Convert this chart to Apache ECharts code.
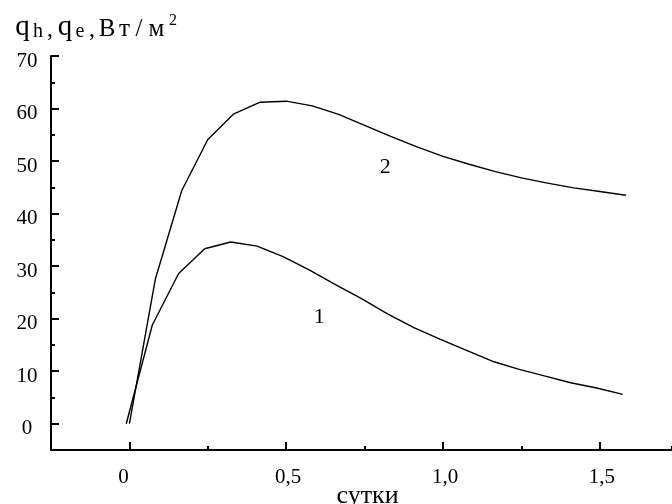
<!DOCTYPE html>
<html><head><meta charset="utf-8">
<script src="https://cdn.jsdelivr.net/npm/echarts@6/dist/echarts.min.js"></script>
<style>html,body{margin:0;padding:0;background:#fff}#c{width:672px;height:504px}</style>
</head><body><div id="c"></div>
<script>
// Curve 1 (lower)
const curve1X = [-0.01, 0.073, 0.157, 0.24, 0.323, 0.407, 0.49, 0.573, 0.657, 0.74, 0.823, 0.907, 0.99, 1.073, 1.157, 1.24, 1.323, 1.407, 1.49, 1.573];
const curve1Y = [0, 18.8, 28.6, 33.3, 34.6, 33.8, 31.8, 29.3, 26.5, 23.8, 20.9, 18.3, 16.1, 14.0, 11.9, 10.4, 9.1, 7.8, 6.8, 5.6];
// Curve 2 (upper)
const curve2X = [0, 0.083, 0.167, 0.25, 0.333, 0.417, 0.5, 0.583, 0.667, 0.75, 0.833, 0.917, 1.0, 1.083, 1.167, 1.25, 1.333, 1.417, 1.5, 1.583];
const curve2Y = [0, 27.6, 44.4, 54.1, 59.0, 61.2, 61.4, 60.5, 58.9, 56.8, 54.7, 52.7, 50.9, 49.4, 48.0, 46.8, 45.8, 44.9, 44.2, 43.5];
// Axis ticks / labels
const xMajorTicks = [0, 0.5, 1, 1.5];
const xTickLabels = ['0', '0,5', '1,0', '1,5'];
const yMajorTicks = [0, 10, 20, 30, 40, 50, 60, 70];
const yTickLabels = ['0', '10', '20', '30', '40', '50', '60', '70'];
const curveNames = ['1', '2'];
const curveNameX = [0.605, 0.816];
const curveNameY = [20.3, 48.8];
const xAxisName = 'сутки';

const FONT = 'Liberation Serif, Times New Roman, serif';
const chart = echarts.init(document.getElementById('c'), null, {renderer: 'canvas'});

const pair = (xs, ys) => xs.map((x, i) => [x, ys[i]]);
const axisBase = {
  type: 'value', splitLine: {show: false}
};
const tok = (size, width, va, align) => ({fontFamily: FONT, fontSize: size, lineHeight: size, width: width,
  align: align || 'center', color: '#000', fontWeight: 'normal', verticalAlign: va || 'bottom'});

chart.setOption({
  animation: false,
  backgroundColor: '#fff',
  title: {
    left: 13, top: 13, padding: 0,
    text: '{q|q}{s|h}{n|,}{q2|q}{s|e}{n|,}{B|В}{t|т}{sl|/}{m|м}{p|2}',
    textStyle: {
      fontWeight: 'normal', fontFamily: FONT, color: '#000',
      rich: {
        q: tok(29, 19),
        q2: tok(29, 18),
        s: tok(20, 12),
        n: tok(24, 12, 'bottom', 'left'),
        B: tok(25, 18),
        t: tok(25, 17),
        sl: tok(25, 12),
        m: tok(25, 23),
        p: tok(16, 10, 'top')
      }
    }
  },
  grid: {left: 51, right: 0, top: 56, bottom: 54, containLabel: false, outerBoundsMode: 'none'},
  xAxis: [
    Object.assign({}, axisBase, {
      min: -0.25, max: 1.73, interval: 0.25,
      axisLine: {show: true, onZero: false, lineStyle: {color: '#000', width: 2}},
      axisTick: {show: true, inside: true, length: 4, lineStyle: {color: '#000', width: 2}},
      axisLabel: {
        customValues: xMajorTicks, margin: 17, color: '#000', fontFamily: FONT, fontSize: 21,
        padding: [0, 0, 0, 4],
        rich: {z: {fontFamily: FONT, fontSize: 21, color: '#000', padding: [0, 16, 0, 0]}},
        formatter: v => {
          const i = xMajorTicks.findIndex(t => Math.abs(t - v) < 1e-6);
          if (i < 0) return '';
          return i === 0 ? '{z|' + xTickLabels[i] + '}' : xTickLabels[i];
        }
      },
      name: xAxisName, nameLocation: 'middle', nameGap: 33, nameMoveOverlap: false,
      nameTextStyle: {color: '#000', fontFamily: FONT, fontSize: 26, padding: [0, 0, 0, 12]}
    }),
    Object.assign({}, axisBase, {
      min: -0.25, max: 1.73, position: 'bottom',
      axisLine: {show: false, onZero: false},
      axisTick: {show: true, inside: true, length: 8, customValues: xMajorTicks, lineStyle: {color: '#000', width: 2}},
      axisLabel: {show: false}
    })
  ],
  yAxis: [
    Object.assign({}, axisBase, {
      min: -5, max: 70, interval: 5,
      axisLine: {show: true, onZero: false, lineStyle: {color: '#000', width: 2}},
      axisTick: {show: true, inside: true, length: 4, lineStyle: {color: '#000', width: 2}},
      axisLabel: {
        customValues: yMajorTicks, margin: 24, align: 'center', verticalAlign: 'top', lineHeight: 10,
        color: '#000', fontFamily: FONT, fontSize: 21,
        formatter: v => { const i = yMajorTicks.indexOf(Math.round(v)); return i >= 0 ? yTickLabels[i] : ''; }
      }
    }),
    Object.assign({}, axisBase, {
      min: -5, max: 70, position: 'left',
      axisLine: {show: false, onZero: false},
      axisTick: {show: true, inside: true, length: 8, customValues: yMajorTicks, lineStyle: {color: '#000', width: 2}},
      axisLabel: {show: false}
    })
  ],
  series: [
    {type: 'line', name: curveNames[0], data: pair(curve1X, curve1Y), showSymbol: false, symbol: 'none',
     lineStyle: {color: '#000', width: 1.4}, xAxisIndex: 0, yAxisIndex: 0, smooth: false},
    {type: 'line', name: curveNames[1], data: pair(curve2X, curve2Y), showSymbol: false, symbol: 'none',
     lineStyle: {color: '#000', width: 1.4}, xAxisIndex: 0, yAxisIndex: 0, smooth: false},
    {type: 'scatter', data: pair(curveNameX, curveNameY), symbolSize: 0, xAxisIndex: 0, yAxisIndex: 0,
     itemStyle: {opacity: 1},
     label: {show: true, position: 'inside', color: '#000', fontFamily: FONT, fontSize: 22, opacity: 1,
       formatter: p => curveNames[p.dataIndex]}, silent: true}
  ]
});
</script></body></html>
